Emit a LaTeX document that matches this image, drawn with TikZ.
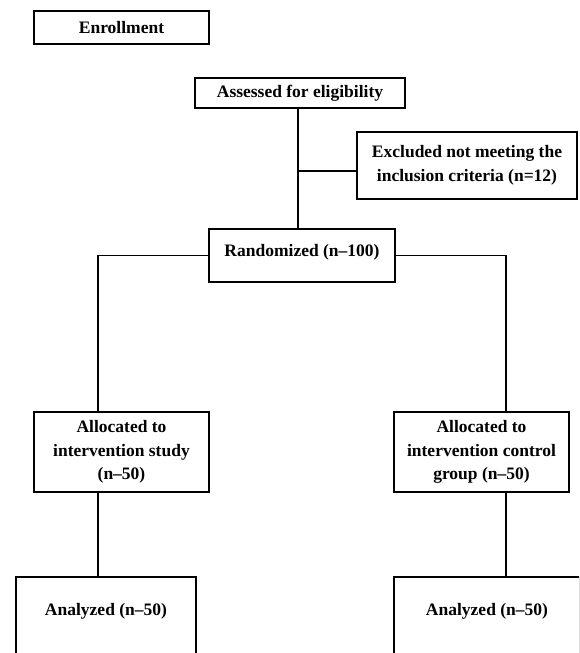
\documentclass[tikz,border=0pt]{standalone}
\usepackage{fontspec}
\setmainfont{Liberation Serif}
\begin{document}
\begin{tikzpicture}[x=1pt,y=-1pt,
  box/.style={draw, line width=1.6pt, fill=white, inner sep=0pt, align=center,
    font=\fontsize{17.5}{23.5}\selectfont\bfseries},
  conn/.style={line width=1.6pt}]
\clip (0,0) rectangle (579,653);
\fill[white] (0,0) rectangle (579,653);

\node[box, minimum width=175pt, minimum height=33pt] (en) at (121.5,27.5) {Enrollment};
\node[box, minimum width=210pt, minimum height=30pt] (as) at (300,93) {Assessed for eligibility};
\node[box, minimum width=220pt, minimum height=67pt] (ex) at (467,165.5) {Excluded not meeting the\\inclusion criteria (n=12)};
\node[box, minimum width=186pt, minimum height=53pt, text height=11pt, text depth=10pt] (ra) at (302,255.5) {Randomized (n–100)};
\node[box, minimum width=175pt, minimum height=80pt] (al1) at (121.5,452) {Allocated to\\intervention study\\(n–50)};
\node[box, minimum width=175pt, minimum height=80pt] (al2) at (481.5,452) {Allocated to\\intervention control\\group (n–50)};
\node[box, anchor=north, minimum width=180pt, text height=11pt, text depth=70pt, inner ysep=28pt] (an1) at (106,576) {Analyzed (n–50)};
\node[box, anchor=north, minimum width=186pt, text height=11pt, text depth=70pt, inner ysep=28pt] (an2) at (487,576) {Analyzed (n–50)};

\coordinate (trunk) at ([xshift=-2pt]as.south);
\draw[conn] (trunk) -- (trunk |- ra.north);
\coordinate (exl) at ([yshift=-5.5pt]ex.west);
\draw[conn] (exl) -- (trunk |- exl);
\coordinate (l1) at ([xshift=-23.5pt]al1.north);
\draw[conn] (ra.west) -| (l1);
\coordinate (r1) at ([xshift=24.5pt]al2.north);
\draw[conn] (ra.east) -| (r1);
\coordinate (l2) at ([xshift=-23.5pt]al1.south);
\draw[conn] (l2) -- (l2 |- an1.north);
\coordinate (r2) at ([xshift=24.5pt]al2.south);
\draw[conn] (r2) -- (r2 |- an2.north);
\end{tikzpicture}
\end{document}
